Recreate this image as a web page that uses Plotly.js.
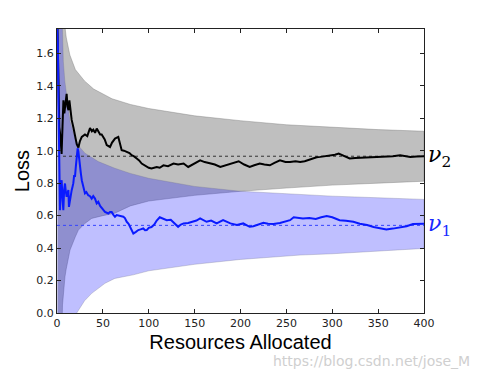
<!DOCTYPE html>
<html>
<head>
<meta charset="utf-8">
<script src="https://cdn.plot.ly/plotly-3.0.1.min.js"></script>
<style>html,body{margin:0;padding:0;background:#fff;}#chart{width:481px;height:377px;}</style>
</head>
<body>
<div id="chart"></div>
<script>
// ---- data ----
const nu2X = [0,1,2,2.5,3.5,5,6,7,8,9,10.5,11.5,12.5,13.5,14.5,16,18,19.6,21.5,23.3,25,27,30.5,33,36,38,39.6,41.5,43.3,45,47,48.7,50.5,52,54.2,56,57.8,60,63.2,66.8,68.5,70.5,73,76,79,81.4,84,86.9,89.5,92.3,95,97.8,100,103,106,108.7,112,116,121,127,132,138,143,149,156,161,167,172,178,184,189,194,198,204,210,215,221,226,232,237,243,249,254,260,265,270,276,279,283,287,292,298,303,307,313,319,325,330,337,345,352,359,366,374,380,385,392,400];
const nu2Y = [1.9,1.5,1.15,1.146,1.10,0.98,1.15,1.31,1.23,1.30,1.35,1.27,1.25,1.31,1.26,1.19,1.14,1.10,1.04,1.02,1.06,1.085,1.10,1.09,1.14,1.12,1.13,1.11,1.137,1.12,1.10,1.10,1.085,1.07,1.035,1.03,1.023,1.05,1.075,1.085,1.04,1.003,1.00,0.993,0.985,0.972,0.965,0.952,0.94,0.921,0.91,0.90,0.895,0.89,0.895,0.90,0.895,0.91,0.905,0.921,0.915,0.921,0.90,0.92,0.941,0.93,0.921,0.915,0.90,0.91,0.921,0.925,0.935,0.915,0.90,0.91,0.921,0.915,0.91,0.925,0.941,0.93,0.93,0.935,0.931,0.935,0.946,0.955,0.96,0.962,0.965,0.968,0.975,0.983,0.965,0.952,0.955,0.956,0.96,0.962,0.962,0.962,0.966,0.972,0.968,0.962,0.965,0.966];

const nu1X = [0,1,1.8,2.5,3.3,4.2,5.1,6,6.9,7.8,8.7,9.6,10.5,11.5,12.4,13,14,15,16,17,17.8,18.7,19.6,20.5,21.5,22.5,23.3,24,25,26,27,28.7,30.5,32,34,36,37.8,39.5,41.4,43.3,45,47,48.7,50.5,52.3,54,56,57.8,59.6,61.5,63.2,65,68,72.3,74,76,78,79.6,81.5,83.2,86,88.6,91,94,96,97.8,100,103,106,108.7,112,116,119.6,124,128,132,135,138,143,149,152,156,160,163,168,174,181,185,189,196,203,207,210,214,218,225,230,236,243,247,254,258,263,268,275,282,288,294,300,308,315,323,330,338,345,352,359,366,374,381,388,394,400];
const nu1Y = [1.8,1.64,1.2,0.94,0.634,0.80,0.818,0.70,0.634,0.76,0.798,0.75,0.716,0.74,0.757,0.654,0.70,0.74,0.757,0.78,0.80,0.85,0.839,0.90,0.96,1.015,0.995,0.95,0.90,0.86,0.818,0.777,0.737,0.745,0.726,0.72,0.705,0.72,0.705,0.675,0.685,0.66,0.644,0.635,0.623,0.618,0.613,0.623,0.623,0.605,0.593,0.603,0.598,0.593,0.585,0.562,0.55,0.531,0.51,0.49,0.50,0.511,0.515,0.521,0.51,0.511,0.525,0.53,0.545,0.57,0.59,0.58,0.572,0.575,0.55,0.531,0.545,0.552,0.555,0.562,0.57,0.583,0.57,0.562,0.57,0.552,0.572,0.56,0.552,0.542,0.552,0.54,0.531,0.535,0.542,0.556,0.55,0.548,0.555,0.562,0.572,0.59,0.585,0.583,0.585,0.58,0.59,0.597,0.59,0.572,0.568,0.562,0.55,0.542,0.53,0.522,0.515,0.52,0.527,0.535,0.548,0.55,0.55];

// confidence bands
const nu2BandUpX = [0.5,2,4,6,8,10,14,20,30,40,60,80,100,150,200,250,300,350,400];
const nu2BandUpY = [6,3.6,2.5,2.05,1.80,1.70,1.59,1.50,1.43,1.38,1.32,1.285,1.26,1.215,1.185,1.16,1.145,1.13,1.12];
const nu2BandLoX = [0.5,2,4,6,8.7,10,14.2,20,23.3,30,37.8,50,63,80,100,150,200,250,300,350,400];
const nu2BandLoY = [-3,-1,-0.25,0.05,0.223,0.27,0.388,0.47,0.511,0.55,0.583,0.60,0.615,0.66,0.69,0.725,0.75,0.77,0.788,0.80,0.812];

const nu1BandUpX = [0.5,2,4,5.8,6.9,8.5,10.5,14.2,19.6,25,30.5,45,63,80,100,150,200,250,300,350,400];
const nu1BandUpY = [6,3.2,2.1,1.77,1.55,1.43,1.34,1.18,1.077,1.02,0.985,0.933,0.892,0.86,0.83,0.78,0.75,0.735,0.72,0.71,0.70];
const nu1BandLoX = [0.5,2,5,10,15,21.5,25,30,37.8,45,52.3,63,83,100,150,200,265,300,350,400];
const nu1BandLoY = [-6,-2.5,-1.2,-0.45,-0.18,0,0.03,0.075,0.121,0.15,0.183,0.213,0.235,0.26,0.30,0.33,0.357,0.365,0.38,0.398];

const meanX = [0,400];
const nu2Mean = 0.966;
const nu1Mean = 0.54;

const xTicks = [0,50,100,150,200,250,300,350,400];
const yTicks = [0.0,0.2,0.4,0.6,0.8,1.0,1.2,1.4,1.6];

// ---- build traces ----
function band(ux, uy, lx, ly) {
  return {
    x: ux.concat(lx.slice().reverse()),
    y: uy.concat(ly.slice().reverse())
  };
}
const b2 = band(nu2BandUpX, nu2BandUpY, nu2BandLoX, nu2BandLoY);
const b1 = band(nu1BandUpX, nu1BandUpY, nu1BandLoX, nu1BandLoY);

const traces = [
  {x: b2.x, y: b2.y, type:'scatter', mode:'lines', fill:'toself',
   fillcolor:'rgba(0,0,0,0.25)', line:{color:'rgba(110,110,110,0.6)', width:0.6}, hoverinfo:'skip'},
  {x: b1.x, y: b1.y, type:'scatter', mode:'lines', fill:'toself',
   fillcolor:'rgba(0,0,255,0.25)', line:{color:'rgba(110,110,140,0.5)', width:0.6}, hoverinfo:'skip'},
  {x: meanX, y: meanX.map(()=>nu2Mean), type:'scatter', mode:'lines',
   line:{color:'#333', width:1, dash:'dot'}},
  {x: meanX, y: meanX.map(()=>nu1Mean), type:'scatter', mode:'lines',
   line:{color:'#3344ff', width:1, dash:'dot'}},
  {x: nu2X, y: nu2Y, type:'scatter', mode:'lines', line:{color:'#000', width:2}},
  {x: nu1X, y: nu1Y, type:'scatter', mode:'lines', line:{color:'#0a1aff', width:2}}
];

const axisCommon = {
  showgrid:false, zeroline:false, showline:true, linecolor:'#222', linewidth:1,
  mirror:'ticks', ticks:'inside', ticklen:4, tickwidth:1, tickcolor:'#222',
  tickfont:{family:'DejaVu Sans', size:11, color:'#222'}
};

const layout = {
  width:481, height:377,
  margin:{l:57, r:57, t:29, b:64},
  paper_bgcolor:'#fff', plot_bgcolor:'#fff',
  showlegend:false,
  xaxis: Object.assign({}, axisCommon, {
    range:[0,400], tickvals:xTicks, ticktext:xTicks.map(String),
    title:{text:'Resources Allocated', font:{family:'Liberation Sans', size:20, color:'#000'}, standoff:5}
  }),
  yaxis: Object.assign({}, axisCommon, {
    range:[0,1.75], tickvals:yTicks, ticktext:yTicks.map(v=>v.toFixed(1)),
    title:{text:'Loss', font:{family:'Liberation Sans', size:20, color:'#000'}, standoff:1}
  }),
  annotations:[
    {xref:'paper', yref:'y', x:1.005, y:nu2Mean, xanchor:'left', yanchor:'middle', showarrow:false,
     text:'<i>ν</i><sub>2</sub>', font:{family:'DejaVu Serif', size:22, color:'#000'}},
    {xref:'paper', yref:'y', x:1.005, y:nu1Mean, xanchor:'left', yanchor:'middle', showarrow:false,
     text:'<i>ν</i><sub>1</sub>', font:{family:'DejaVu Serif', size:22, color:'#1a2aff'}},
    {xref:'paper', yref:'paper', x:1.13, y:-0.17, xanchor:'right', yanchor:'middle', showarrow:false,
     text:'https://blog.csdn.net/jose_M', font:{family:'DejaVu Sans', size:14, color:'#cfcfcf'}}
  ]
};

Plotly.newPlot('chart', traces, layout, {staticPlot:true, displayModeBar:false});
</script>
</body>
</html>
